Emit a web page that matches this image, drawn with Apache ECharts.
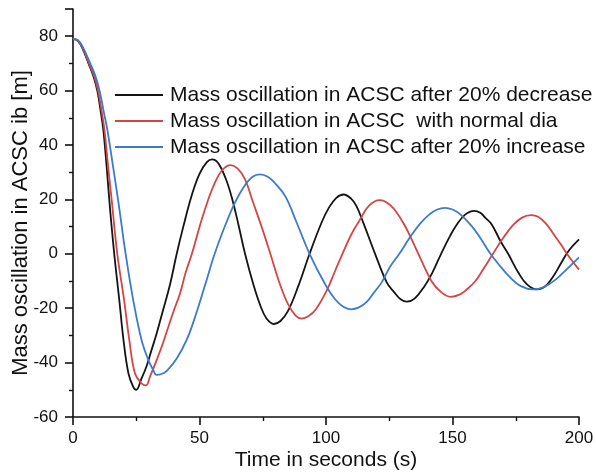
<!DOCTYPE html>
<html>
<head>
<meta charset="utf-8">
<script src="https://cdn.jsdelivr.net/npm/echarts@6/dist/echarts.min.js"></script>
<style>
html,body{margin:0;padding:0;background:#fff;}
#chart{width:596px;height:475px;}
</style>
</head>
<body>
<div id="chart"></div>
<script>
// Series names
const seriesNames = [
  'Mass oscillation in ACSC after 20% decrease',
  'Mass oscillation in ACSC  with normal dia',
  'Mass oscillation in ACSC after 20% increase'
];

// [time (s), mass oscillation (m)]
const decreaseData = [[0,79],[2,78.2],[4,75],[6.1,70],[8,65.5],[9.6,60],[11,52],[12,45.5],[13.3,32],[14.6,17],[16.3,0],[18.3,-17],[20,-32],[21.9,-43.9],[23.8,-48.9],[25,-50],[27,-46],[29,-41.5],[31,-35.5],[33,-29.5],[35.5,-21],[38.3,-11.5],[41,0],[43.6,10],[47,21.7],[50,29.4],[53,33.8],[55,34.7],[57.5,33.2],[60.5,27.3],[63,19.9],[65.4,10.7],[68,0],[71.3,-11.3],[74,-18.9],[76.5,-23.8],[79.4,-25.8],[82,-24.7],[85,-21],[89,-12],[93.5,0],[98.3,11.6],[101,16.7],[104,20.5],[107,21.8],[110,20.2],[112,17.6],[114.8,11.3],[119.4,0],[124,-10.5],[127,-14.2],[129.5,-16.7],[132,-17.6],[135,-16.5],[139,-11.8],[142,-7],[145.5,0],[149,6.5],[151.6,10.6],[155,14.4],[158.5,15.8],[161,15.1],[163,13.2],[165.5,10.8],[169,4.6],[172,0],[176,-6.9],[179.3,-11.1],[183.3,-13.1],[185.5,-12.6],[187.5,-11.2],[190,-8.1],[193,-3.3],[196,1.2],[200,5.3]];
const normalData = [[0,79],[2,78.3],[4,75.3],[6.3,70],[8.3,65.5],[9.9,60],[11.4,52],[12.5,45],[14,31],[15.3,19.7],[17.5,0],[20.2,-17],[22.3,-32],[24.5,-44],[27.1,-47.6],[28.8,-48.4],[30.5,-45],[33.1,-39],[35.5,-33],[37.7,-26.8],[40,-20.5],[42.3,-14.6],[44.5,-7],[47,0],[50.2,10.5],[53,18.7],[56,26],[59,30.8],[62.3,32.6],[65,31.4],[68,27.4],[71,19.4],[74.6,9.8],[78,0],[81.8,-11.2],[85,-18.5],[88,-22.7],[90.4,-23.8],[93,-23],[96,-20.4],[100.3,-13.5],[103.5,-6.5],[106.5,0],[110,7.1],[113.4,12.5],[117,17.7],[121.3,19.7],[124,18.9],[127,16.4],[131.2,10.3],[136.5,0],[141.8,-10.2],[145.5,-14.1],[149.3,-15.8],[153,-14.9],[155.5,-13.2],[158.9,-10.2],[162,-5.9],[166,0],[170,5.8],[174,10.6],[177.5,13.3],[181,14.2],[184,13.5],[187.2,10.8],[190,7.2],[193,3.2],[196,-1],[200,-5.8]];
const increaseData = [[0,79],[2,78.5],[4,75.8],[6.8,70],[8.8,65.5],[10.5,60],[12.2,52],[13.6,45.5],[16,31],[18.1,18],[20.8,0],[23.8,-17],[27.1,-31.7],[29.8,-39.1],[31.7,-42.7],[33,-44.5],[35,-44.2],[37,-43.1],[41,-38.5],[45,-31.5],[48.5,-22.5],[52.2,-11.5],[56,0],[60.1,10.3],[64,18.8],[67.5,24.6],[71,28.3],[73.9,29.2],[77,28.3],[80,25.8],[84,21],[88.4,11.5],[93.5,0],[99.6,-11.1],[103.5,-16.6],[107,-19.6],[110,-20.4],[113,-19.7],[116,-17.8],[119,-14.2],[122,-10.5],[125.5,-4.5],[129,0],[133,5.8],[137.2,11.1],[141,14.6],[144,16.3],[147,16.9],[150,16.3],[153,14.6],[157.6,10.2],[161,5.8],[165,0],[169,-4.7],[172.7,-8.6],[177,-11.9],[181.9,-13.1],[184,-12.9],[187,-11.8],[191,-9.3],[195,-5.8],[200,-1.3]];

// Axis ticks
const xTicks = {min: 0, max: 200, interval: 50};
const yTicks = {min: -60, max: 90, interval: 20};

const colors = ['#141414', '#d64545', '#3a7bcc'];
const FONT = 'Liberation Sans, Arial, sans-serif';
const chart = echarts.init(document.getElementById('chart'), null, {renderer: 'canvas'});

const axisCommon = {
  nameMoveOverlap: false,
  axisLine: {show: true, onZero: false, lineStyle: {color: '#111', width: 1.6}},
  axisTick: {show: true, inside: false, length: 8, lineStyle: {color: '#111', width: 1.6}},
  minorTick: {show: true, splitNumber: 2, length: 4, lineStyle: {color: '#111', width: 1.4}},
  splitLine: {show: false},
  minorSplitLine: {show: false}
};

chart.setOption({
  animation: false,
  backgroundColor: '#fff',
  color: colors,
  grid: {left: 73, right: 17, top: 9, bottom: 58, containLabel: false, outerBoundsMode: 'none'},
  legend: {
    data: seriesNames,
    orient: 'vertical',
    left: 115,
    top: 84.5,
    padding: 0,
    itemWidth: 48,
    itemHeight: 2,
    itemGap: 5,
    icon: 'rect',
    textStyle: {fontFamily: FONT, fontSize: 21, color: '#111', lineHeight: 21, padding: [0,0,0,2]}
  },
  xAxis: Object.assign({
    type: 'value',
    min: xTicks.min, max: xTicks.max, interval: xTicks.interval,
    name: 'Time in seconds (s)',
    nameLocation: 'middle',
    nameGap: 33,
    nameTextStyle: {fontFamily: FONT, fontSize: 21, color: '#111', verticalAlign: 'top', lineHeight: 21},
    axisLabel: {fontFamily: FONT, fontSize: 17, color: '#111', margin: 13}
  }, axisCommon),
  yAxis: Object.assign({
    type: 'value',
    min: yTicks.min, max: yTicks.max, interval: yTicks.interval,
    name: 'Mass oscillation in ACSC ib [m]',
    nameLocation: 'middle',
    nameGap: 41,
    nameRotate: 90,
    nameTextStyle: {fontFamily: FONT, fontSize: 22, color: '#111', padding: [0, 20, 0, 0]},
    axisLabel: {fontFamily: FONT, fontSize: 17, color: '#111', margin: 15, showMaxLabel: false,
      formatter: function (v) { return v === yTicks.max ? '' : String(v); }}
  }, axisCommon),
  series: [
    {name: seriesNames[0], type: 'line', data: decreaseData, showSymbol: false, smooth: 0.4, lineStyle: {width: 1.8, color: colors[0]}, itemStyle: {color: colors[0]}},
    {name: seriesNames[1], type: 'line', data: normalData, showSymbol: false, smooth: 0.4, lineStyle: {width: 1.8, color: colors[1]}, itemStyle: {color: colors[1]}},
    {name: seriesNames[2], type: 'line', data: increaseData, showSymbol: false, smooth: 0.4, lineStyle: {width: 1.8, color: colors[2]}, itemStyle: {color: colors[2]}}
  ]
});
</script>
</body>
</html>
